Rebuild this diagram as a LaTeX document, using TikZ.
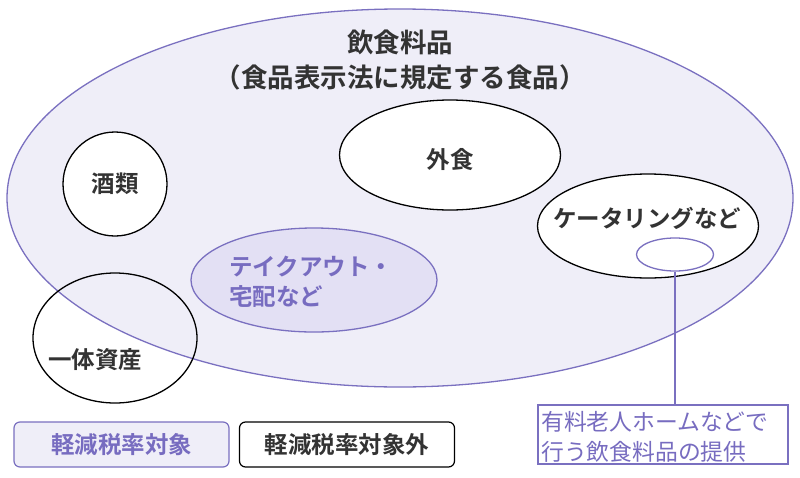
\documentclass[tikz,border=0pt]{standalone}
\usepackage{fontspec}
\setmainfont{Noto Sans CJK JP}[BoldFont={Noto Sans CJK JP Bold}]
\usetikzlibrary{shapes.geometric}
\definecolor{pborder}{HTML}{7A70C0}
\definecolor{pfill}{HTML}{EFEEF8}
\definecolor{pfilldark}{HTML}{E3E0F4}
\definecolor{ptext}{HTML}{776CC0}
\definecolor{dtext}{HTML}{333333}
\tikzset{
  blob/.style={ellipse, draw=black, line width=1.3pt, fill=white, inner sep=0pt},
  pblob/.style={ellipse, draw=pborder, line width=1.3pt, inner sep=0pt},
  lbl/.style={text=dtext, font=\fontsize{23.5}{28}\selectfont\bfseries, inner sep=0pt},
  plbl/.style={text=ptext, font=\fontsize{23.5}{30}\selectfont\bfseries, inner sep=0pt, align=left},
  legendbox/.style={rounded corners=6pt, line width=1.2pt, minimum width=215pt, minimum height=45pt, inner sep=0pt},
}
\begin{document}
\begin{tikzpicture}[x=1pt,y=-1pt]
\useasboundingbox[fill=white] (0,0) rectangle (800,477);
% main ellipse
\node[pblob, fill=pfill, minimum width=786pt, minimum height=378pt] (main) at (400,198) {};
\node[lbl, font=\fontsize{26.5}{32}\selectfont\bfseries] (t1) at (400,42) {飲食料品};
\node[lbl, font=\fontsize{26.5}{32}\selectfont\bfseries] (t2) at (400,77) {（食品表示法に規定する食品）};
% inner
\node[blob, minimum width=104pt, minimum height=104pt] (sake) at (115,184) {};
\node[lbl] at (sake) {酒類};
\node[blob, minimum width=221pt, minimum height=110pt] (gaishoku) at (450,155) {};
\node[lbl] at (450,160) {外食};
\node[blob, minimum width=221pt, minimum height=104pt] (cater) at (648,226) {};
\node[lbl] at (647,218) {ケータリングなど};
\node[pblob, minimum width=77pt, minimum height=33pt] (home) at (675,254.5) {};
\node[pblob, fill=pfilldark, minimum width=246pt, minimum height=104pt] (take) at (314,280) {};
\node[plbl, anchor=west] at (229,282) {テイクアウト・\\宅配など};
\node[ellipse, draw=black, line width=1.3pt, inner sep=0pt, minimum width=164pt, minimum height=130pt] (ittai) at (115,338) {};
\node[lbl] at (95,360) {一体資産};
% callout box
\node[draw=pborder, line width=1.2pt, minimum width=250pt, minimum height=59pt, inner sep=0pt] (box) at (663,434.5) {};
\node[text=ptext, font=\fontsize{22.8}{30}\selectfont, align=left, anchor=west, inner sep=0pt] at (541,437) {有料老人ホームなどで\\行う飲食料品の提供};
\draw[pborder, line width=1.2pt] (home.south) -- (home.south |- box.north);
% legend
\node[legendbox, draw=pborder, fill=pfill] (lg1) at (121.5,444.5) {};
\node[plbl] at (lg1) {軽減税率対象};
\node[legendbox, draw=black, fill=white] (lg2) at (347,444.5) {};
\node[lbl] at (lg2) {軽減税率対象外};
\end{tikzpicture}
\end{document}
